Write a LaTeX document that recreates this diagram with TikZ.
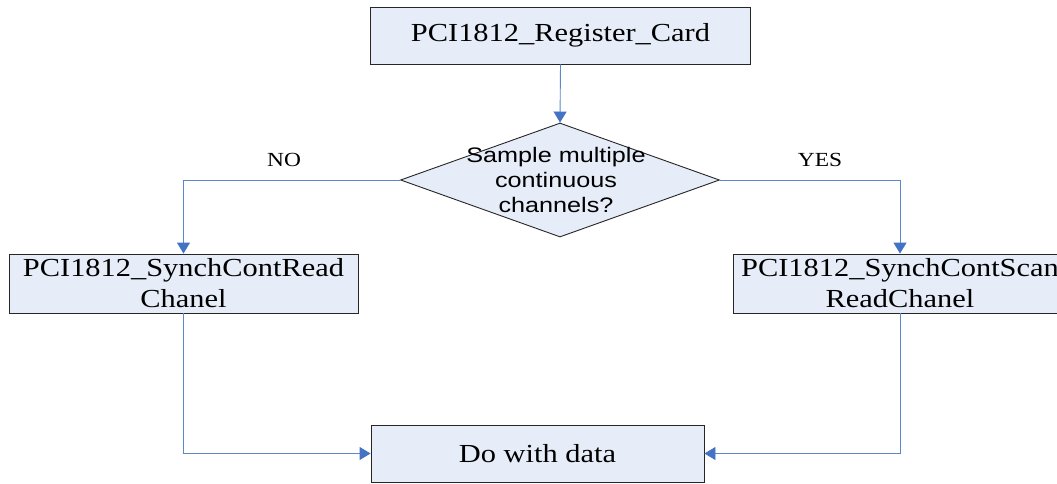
\documentclass[tikz,border=0pt]{standalone}
\usepackage{fontspec}
\setmainfont{Liberation Serif}[FakeStretch=1.17]
\newfontfamily\diamfont{Liberation Sans}[FakeStretch=1.2]
\usetikzlibrary{shapes.geometric,arrows.meta}
\definecolor{boxfill}{HTML}{E6EDF8}
\definecolor{flowline}{HTML}{5B88C8}
\definecolor{flowtip}{HTML}{4472C4}
\tikzset{
  procbox/.style={draw=black!85, line width=0.9pt, fill=boxfill, inner sep=0pt,
    align=center, font=\fontsize{26}{31}\selectfont},
  decision/.style={draw=black!85, line width=0.9pt, fill=boxfill, diamond, inner sep=0pt,
    minimum width=319pt, minimum height=114pt},
  decisiontext/.style={inner sep=0pt, align=center,
    font=\diamfont\fontsize{21}{25}\selectfont},
  branchlabel/.style={font=\fontsize{20}{24}\selectfont, inner sep=0pt},
  flow/.style={draw=flowline, line width=0.9pt,
    -{Triangle[width=13pt,length=11pt,color=flowtip]}},
}
\begin{document}
\begin{tikzpicture}[x=1pt,y=-1pt]
\useasboundingbox (0,0) rectangle (1057,483);
\fill[white] (0,0) rectangle (1057,483);

\node[procbox, minimum width=380pt, minimum height=57pt] (reg) at (560.5,35.5) {PCI1812\_Register\_Card};
\node[decision] (dec) at (560,180) {};
\node[decisiontext] (dectext) at (556,180) {Sample multiple\\continuous\\channels?};
\node[procbox, minimum width=349pt, minimum height=59pt] (left) at (183.5,283.5) {PCI1812\_SynchContRead\\Chanel};
\node[procbox, minimum width=334pt, minimum height=59pt] (right) at (900,283.5) {PCI1812\_SynchContScan\\ReadChanel};
\node[procbox, minimum width=333pt, minimum height=57pt] (data) at (537.5,453.5) {Do with data};

\node[branchlabel] (no) at (284,160) {NO};
\node[branchlabel] (yes) at (820,160) {YES};

\draw[flow] (reg.south) -- (dec.north);
\draw[flow] (dec.west) -| (left.north);
\draw[flow] (dec.east) -| (right.north);
\draw[flow] (left.south) |- (data.west);
\draw[flow] (right.south) |- (data.east);
\end{tikzpicture}
\end{document}
